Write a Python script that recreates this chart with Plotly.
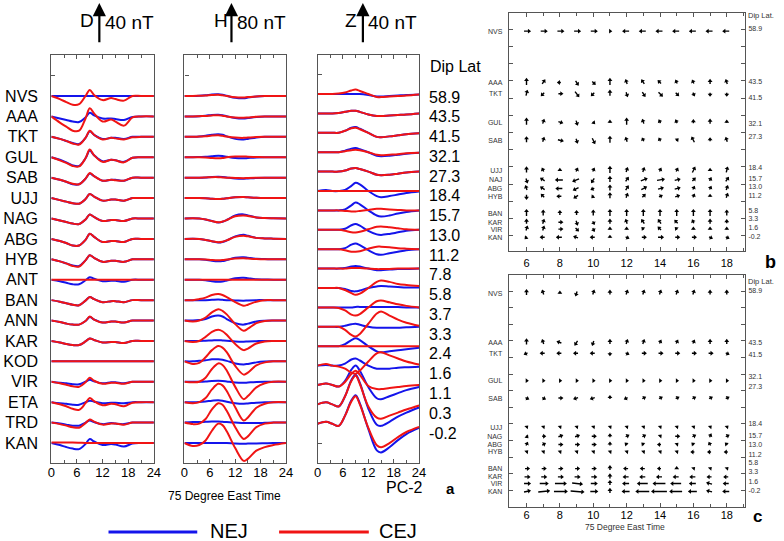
import math
import plotly.graph_objects as go

W, H = 784, 541

# ---------------- data: panel a (station traces, nT) ----------------
T = [0, 2, 3.5, 5, 6.5, 8, 9, 10, 12, 14, 15, 17, 19, 21, 24]
STATIONS = ["NVS", "AAA", "TKT", "GUL", "SAB", "UJJ", "NAG", "ABG", "HYB",
            "ANT", "BAN", "ANN", "KAR", "KOD", "VIR", "ETA", "TRD", "KAN"]
DIP_LAT = ["58.9", "43.5", "41.5", "32.1", "27.3", "18.4", "15.7", "13.0", "11.2",
           "7.8", "5.8", "3.7", "3.3", "2.4", "1.6", "1.1", "0.3", "-0.2"]

D_NEJ = [
    [0, 0, 0, 0, 0, 0, 0, 0, 0, 0, 0, 0, 0, 0, 0],
    [0, -2, -3.5, -5, -5.5, -1, 3.5, 1, -2, -2, -2.5, -3.5, -0.5, 0, 0],
    [0, -2, -4, -6, -7, -1, 5.5, 2, -2, -1, -1, -2, 0, 0, 0],
    [0, -2.5, -5, -8, -8.5, -1, 6.5, 2, -4, -2.5, -3, -4.5, -0.5, 0, 0],
    [0, -2, -4, -6.5, -6.5, -1, 4, 1.5, -3, -2, -2, -3, 0, 0, 0],
    [0, -2, -3.5, -5, -5.5, -1, 4, 1.5, -2.5, -1.5, -1.5, -2.5, 0, 0, 0],
    [0, -2, -3.5, -5, -5.5, -1, 4, 1.5, -2.5, -1.5, -1.5, -2.5, 0, 0, 0],
    [0, -2, -4, -6.5, -6.5, -1, 5, 2, -3, -2, -2, -3, 0, 0, 0],
    [0, -2, -4, -6, -6.5, -1, 4, 1.5, -2.5, -1.5, -1.5, -2.5, 0, 0, 0],
    [0, -1.5, -3, -4.5, -4.5, -0.5, 2.5, 1, -1.5, -1, -1, -2, 0, 0, 0],
    [0, -1.5, -3, -4.5, -5, -0.5, 3, 1, -2, -1, -1, -2, 0, 0, 0],
    [0, -1.5, -3, -4, -4, -0.5, 3.5, 1, -2, -1, -1, -2, 0, 0, 0],
    [0, -1.5, -3, -4, -4, -0.5, 2.5, 1, -1.5, -1, -1, -2, 0, 0, 0],
    [0, 0, 0, 0, 0, 0, 0, 0, 0, 0, 0, 0, 0, 0, 0],
    [0, -1, -1.5, -2.5, -2.5, 0, 2, 0.5, -1.5, -0.5, -0.5, -1.5, 0, 0, 0],
    [0, -1, -1.5, -2.5, -2.5, 0, 1.5, 0.5, -1, -0.5, -0.5, -1, 0, 0, 0],
    [0, -1, -2, -3, -3, 0, 2, 0.5, -1.5, -0.5, -1, -1.5, 0, 0, 0],
    [0, -2, -4, -5.5, -6, -1, 4, 1.5, -2, -1, -1.5, -3.5, -0.5, 0, 0],
]
D_CEJ = [
    [0, -3, -6, -8.5, -8, 0, 6, 1, -4, -2, -3, -4.5, 0, 0, 0],
    [0, -6, -10, -14, -14, -2, 8, 3, -5, -3, -5, -9, -1, 0, 0],
    [0, -2, -4, -6.5, -7.5, -1, 6, 2, -2.5, -1, -1.5, -2.5, -0.5, 0, 0],
    [0, -3, -5.5, -8.5, -9, -1, 7.5, 2, -4.5, -2.5, -3, -5, -0.5, 0, 0],
    [0, -2, -4, -6, -6.5, -1, 4.5, 1.5, -3, -2, -2.5, -3, 0, 0, 0],
    [0, -2, -3.5, -5, -5.5, -1, 4, 1.5, -2.5, -1.5, -1.5, -2.5, 0, 0, 0],
    [0, -2, -3.5, -5, -5.5, -1, 4, 1.5, -2.5, -1.5, -1.5, -2.5, 0, 0, 0],
    [0, -2, -4, -6.5, -6.5, -1, 5, 2, -3, -2, -2, -3, 0, 0, 0],
    [0, -2, -4, -6.5, -7, -1, 4, 1.5, -2.5, -1.5, -1.5, -2.5, 0, 0, 0],
    [0, 0, 0, 0, 0, 0, 0, 0, 0, 0, 0, 0, 0, 0, 0],
    [0, -1.5, -3, -4.5, -5, -0.5, 3, 1, -2, -1, -1, -2, 0, 0, 0],
    [0, -1.5, -3, -4, -4, -0.5, 4, 1, -2, -1, -1, -2, 0, 0, 0],
    [0, -1.5, -3, -4, -4, -0.5, 2.5, 1, -1.5, -1, -1, -2, 0, 0, 0],
    [0, 0, 0, 0, 0, 0, 0, 0, 0, 0, 0, 0, 0, 0, 0],
    [0, -1.5, -3, -4.5, -5, -0.5, 4, 1, -2, -1, -1, -2, 0, 0, 0],
    [0, -2, -4, -6.5, -7.5, -1, 4, 1, -3, -1.5, -2, -4, -0.5, 0, 0],
    [0, -1.5, -3, -4.5, -5, -0.5, 3, 1, -2, -1, -1, -2, 0, 0, 0],
    [0.5, 0.5, 0.5, 0.5, 0.3, 0, 0, 0, 0, 0, 0, 0, 0, 0, 0],
]
H_NEJ = [
    [0, 0, 0.5, 1.5, 3, 3.5, 2.5, 0.5, -3.5, -4.5, -3, -1, 0, 0, 0],
    [0, 0, 0.5, 1.5, 3, 3.5, 2.5, 0.5, -3, -4, -3, -1, 0, 0, 0],
    [0, 0, 0.5, 2, 4, 5, 4, 1, -4, -5, -4, -1.5, 0, 0, 0],
    [0, 0, 0.5, 1, 2, 3, 2.5, 1, -1.5, -2, -1.5, -0.5, 0, 0, 0],
    [0, 0, 0, 0.5, 1.5, 2, 1.5, 0.5, -1.5, -2, -1.5, -0.5, 0, 0, 0],
    [0, 0, 0, -0.5, -1.5, -2, -1.5, -0.5, 1.5, 2, 1.5, 0.5, 0, 0, 0],
    [0, 0.5, 0, -2, -5, -8, -6.5, -3, 6, 8, 6, 2, 1, 0.5, 0],
    [0, 0.5, 0, -2, -4.5, -7, -6, -3, 5, 8, 6, 2, 1, 0.5, 0],
    [0, 0, 0, -1, -3, -4, -3.5, -1.5, 3, 4, 3, 1, 0.5, 0, 0],
    [0, 0, 0, -1, -3, -4, -3.5, -1.5, 3, 4, 3, 1, 0.5, 0, 0],
    [0, 0, 0, 0, 0.5, 1, 0.5, 0, -0.5, -1, -0.5, 0, 0, 0, 0],
    [0, 0, 1, 3, 8, 10, 8, 3, -5, -8, -6, -2, -0.5, 0, 0],
    [0, 0, 0, 0.5, 1, 1.5, 1, 0.5, -1, -1.5, -1, -0.5, 0, 0, 0],
    [0, 0, 1, 2, 4, 4, 3, 1, -4, -6, -5, -2, -0.5, 0, 0],
    [0, 0, 0, 0.5, 1.5, 2, 1.5, 0.5, -1.5, -2, -1.5, -0.5, 0, 0, 0],
    [0, 0, 0.5, 1.5, 3, 4, 3, 1, -2, -3, -2.5, -1, 0, 0, 0],
    [0, 1, 1, 1.5, 2, 2, 1.5, 1, 0, -1, -1, -1, -0.5, 0, 0],
    [0, 0, 0, 0, 0, 0, 0, 0, -1, -1.5, -1, -1, -0.5, 0, 0],
]
H_CEJ = [
    [0, 0, 0.5, 1, 2, 2.5, 1.5, 0, -2.5, -3, -2, -1, 0, 0, 0],
    [0, 0, 0.5, 1, 2, 2.5, 1.5, 0, -2, -2.5, -2, -0.5, 0, 0, 0],
    [0, 0, 0.5, 1, 2.5, 3, 2, 0.5, -1.5, -2, -1.5, -0.5, 0, 0, 0],
    [0, 0, 0, -0.5, -1.5, -2, -1.5, 0, 1.5, 1.5, 1, 0.5, 0, 0, 0],
    [0, 0, 0, 0.5, 1, 1, 0.5, 0, -0.5, -1, -0.5, 0, 0, 0, 0],
    [0, 0, 0, -0.5, -1.5, -2, -1.5, -0.5, 1.5, 2, 1.5, 0.5, 0, 0, 0],
    [0, 0.5, 0, -2, -5, -7.5, -6, -3, 4.5, 6, 5, 2, 1, 0.5, 0],
    [0, 0.5, 0, -2, -4.5, -6.5, -5.5, -3, 4, 6, 5, 2, 1, 0.5, 0],
    [0, 0, 0, -0.5, -1.5, -2, -1.5, -0.5, 1.5, 2, 1.5, 0.5, 0, 0, 0],
    [0, 0, 0, 0, 0, 0, 0, 0, 0, 0, 0, 0, 0, 0, 0],
    [0, 0, 2, 5, 10, 12, 10, 6, -4, -11, -9, -3, 0, 0, 0],
    [0, -2, 0, 6, 16, 22, 19, 12, -7, -20, -16, -5, -1, 0, 0],
    [0, -2, 0, 8, 18, 22, 19, 12, -6, -18, -15, -5, -1, 0, 0],
    [0, -5, -3, 8, 22, 30, 27, 18, -9, -26, -22, -8, -2, 0, 0],
    [0, -1, 0, 8, 25, 36, 33, 22, -10, -34, -28, -11, -3, 0, 0],
    [0, -2, 0, 8, 25, 36, 33, 22, -10, -36, -30, -11, -3, 0, 0],
    [0, -3, -2, 7, 26, 38, 35, 23, -9, -32, -27, -9, -2, 0, 0],
    [0, -6, -4, 5, 24, 38, 35, 23, -10, -35, -31, -15, -8, -4, 0],
]
Z_NEJ = [
    [0, 0, 0, 0, 0, 0, 0, 0, -1, -2.5, -2.5, -2, -1.5, -1, -0.5],
    [0, 0, 0, 0.5, 1.5, 2.5, 2.5, 1.5, -1, -2.5, -2.5, -2, -1.5, -1, 0],
    [0, 0, 0, 0, 2, 5, 5.7, 4, 0, -4, -4.3, -3.5, -2.5, -1.5, -0.5],
    [0, 0, 0, 0, 1.5, 3.5, 4, 3, 0, -3.5, -4, -3.5, -2.5, -1.5, -0.5],
    [0, 0, 0, 0, 1, 3, 3.5, 2.5, 0, -3, -3.5, -3, -2, -1, 0],
    [0, 1, 0, 0, 1, 5, 8, 6.5, 0, -5, -6, -5, -3.5, -2, -0.5],
    [0, 0, 0, 0, 1, 5, 7.7, 6, 0, -5, -6, -5, -3, -1.5, 0],
    [0, 0, 0, 0, 1, 4.5, 5.7, 4, -1, -4.5, -5, -4, -2.5, -1, 0],
    [0, 0, 0, 0, 1, 4.5, 5.7, 4, -1, -5, -5.5, -4, -2.5, -1, 0],
    [0, 0, 0, 0, 0.5, 2, 2.5, 2, 0, -1.5, -1.5, -1, -0.5, -0.5, 0],
    [0, 0, 0, 0, -1, -3, -3.3, -2.5, 0, 1.5, 2, 1.5, 1, 0.5, 0.5],
    [0, 0, 0, 0, 0, 0, 0.5, 0.5, 0.5, 0.5, 0.5, 0.5, 0.3, 0, 0],
    [0, 0, 0, 0, 1, 2.5, 3, 2, 0, -1, -1, -1, -1, -0.5, 0],
    [0, 0, 0, 0, 2, 6, 7.7, 6, 0, -5, -6, -5, -4, -3, -1.5],
    [0, 0.5, 0, 0, 2, 6, 7, 5, 0, -3, -3, -3, -2, -1.5, -1],
    [0, 1.5, 0, -1.5, 4, 15, 19, 14, -2, -13, -14, -11, -8, -5, -2],
    [0, 2, 0, -2, 8, 24, 29, 21, -4, -20, -21, -17, -12, -8, -3],
    [0, 2, 0, -2, 8, 23, 28, 20, -5, -26, -28, -23, -16, -10, -4],
]
Z_CEJ = [
    [0, 0, 0, 0.5, 1.5, 3.5, 4.3, 3, 0, -3, -3, -2.5, -2, -1.5, -0.5],
    [0, 0, 0, 0.5, 1.5, 2.5, 2.5, 1.5, -1, -2.5, -2.5, -2, -1.5, -1, 0],
    [0, 0, 0, 0, 2, 4.5, 5, 3.5, 0, -4, -4.3, -3.5, -2.5, -1.5, -0.5],
    [0, 0, 0, 0, 1, 2, 2.5, 2, 0, -2.5, -3, -2.5, -2, -1, -0.5],
    [0, 0, 0, 0, 1, 3, 3.5, 2.5, 0, -3, -3.5, -3, -2, -1, 0],
    [0, 0, 0, 0, 0, 0, 0, 0, 0, 0, 0, 0, 0, 0, 0],
    [0, 0, 0, 0, -0.5, -1, -1, -0.5, 0.5, 1.5, 1.5, 1, 0.5, 0, 0],
    [0, 0, 0, 0, -1, -2.5, -2.7, -2, 0.5, 3, 3.3, 2.5, 1.5, 0.5, 0],
    [0, 0, 0, 0, -1, -2.5, -2.5, -2, 0.5, 2.5, 2.5, 2, 1, 0.5, 0],
    [0, 0, 0, 0, 0, 0.5, 0.5, 0.5, 0, -0.5, -0.5, -0.3, 0, 0, 0],
    [0, 0, 0, 0, -2, -5, -6.7, -5.5, 0, 6, 7.3, 6, 4, 3, 2],
    [0, 0, 0, -0.5, -3, -7, -8, -6.5, 0, 6, 6.7, 5, 3, 1.5, 0],
    [0, 0, 0, 0, -3, -8, -9.5, -7, 3, 13, 15, 11, 7, 4, 1],
    [0, 0, 0, 0, 0, 0, 0, 0, 0, 0, 0, 0, 0, 0, 0],
    [0, 1.5, 0, -1, -3, -7, -8, -5, 4, 12, 13, 10, 7, 4, 1],
    [0, 1.5, 0, -1.5, 3, 11, 14, 10, -1, -4, -4, -3, -2, -1, 0],
    [0, 2, 0, -2, 8, 23, 28, 20, -2, -13, -14, -11, -8, -5, -1],
    [0, 2, 0, -2, 8, 22, 27, 19, -4, -21, -23, -19, -13, -8, -3],
]

# ---------------- data: panels b and c (vectors) ----------------
HOURS = [6, 7, 8, 9, 10, 11, 12, 13, 14, 15, 16, 17, 18]
VEC_ST_B = ["NVS", "AAA", "TKT", "GUL", "SAB", "UJJ", "NAJ", "ABG", "HYB", "BAN", "KAR", "VIR", "KAN"]
VEC_ST_C = ["NVS", "AAA", "TKT", "GUL", "SAB", "UJJ", "NAG", "ABG", "HYB", "BAN", "KAR", "VIR", "KAN"]
VEC_LAT = [55.5, 43.6, 41.0, 34.4, 30.2, 23.2, 21.0, 19.0, 17.2, 13.2, 11.2, 9.6, 7.7]
VEC_DIP = ["58.9", "43.5", "41.5", "32.1", "27.3", "18.4", "15.7", "13.0", "11.2", "5.8", "3.3", "1.6", "-0.2"]
LAT_GRID = [8, 12, 16, 20, 24, 28, 32, 36, 40, 44, 48, 52, 56]

B_U = [
    [5, 5, 5, 5, 5, 0.5, -5, -5, -5, -5, -5, -5, -5],
    [0, 2, -2, 2, 2, 0, -1, -2, -2, -1, -1, 0, -1],
    [1, -2, 3, 3, -2, 0, 1, 2, 3, 2, 1, 0, 0],
    [0, 1, 3, 1, 1, 0, 0, -1, -1, -1, 0, 0, 0],
    [0, 1, 4, 1, 2, 0, -1, -1, -1, 1, -2, 0, -1],
    [0, -1, 0, 1, 1, 0, 1, 1, 1, 1, 2, 0, 1],
    [1, -3, -6, -5, -2, 0, 2, 5, 6, 4, 2, 1, 2],
    [-1, -3, -5, -4, -2, 0, 2, 4, 4, 4, 1, 1, 1],
    [0, -2, -3, -3, -1, 0, 1, 2, 2, 3, 1, 0, 1],
    [0, 0, 0, 0, 0, 0, 0, 0, 0, 0, 0, 0, 0],
    [0, 1, 3, 1, 1, 0, -1, -2, -2, -2, -1, 0, 0],
    [1, 1, 3, 2, 1, 0, 0, -1, -2, -1, 0, 0, 0],
    [-1, -3, -4, -3, -3, 0, 2, 3, 4, 3, 3, 2, 2],
]
B_V = [
    [0, 0, 0, 0, 0, 0, 0, 0, 0, 0, 0, 0, 0],
    [5, 3, 0, -3, -2, 5, 3, 3, 2, 2, 2, 3, 3],
    [4, -2, 0, -4, -2, 4, -3, -3, -3, -2, -2, -2, -2],
    [5, 3, -1, -3, -1, 1, 5, 3, 2, 2, 2, 3, 1],
    [4, 3, -1, -3, -4, 5, 3, 2, 2, 1, 4, 2, 3],
    [4, 2, 1, 2, 2, 5, 3, 3, 2, 2, 4, 1, 4],
    [-3, 2, 0, -2, -3, 4, 3, 2, 1, 1, 2, 2, 3],
    [3, 2, 0, -2, -1, 4, 3, 2, 1, 1, 2, 2, 3],
    [-3, 2, 0, -2, -1, 4, 3, 2, 1, 1, 2, 1, 3],
    [5, 4, 3, 3, 4, 5, 5, 5, 5, 5, 5, 5, 4],
    [3, 3, 0, -3, -2, 3, 3, 3, 3, 2, 2, 3, 2],
    [3, 3, 0, -2, -2, 1, 1, 1, 2, 1, 1, 1, 1],
    [-1, 0, 0, 1, 0, 1, -1, 0, 0, 0, 0, -1, -1],
]
C_U = [
    [0, -1, 0, -1, 1, 0, 1, 1, 1, 1, 1, 0, 0],
    [0, -1, -3, -2, -1, 0, 1, 1, 1, 1, 1, 0, 0],
    [-2, -3, -3, -3, -3, 0, 2, 3, 3, 3, 3, 3, 2],
    [0.5, 0.5, 0.5, 0.5, 0.5, 0.5, 0.5, 0.5, 0.5, 0.5, 0.5, 0.5, 0.5],
    [2, 2, 3, -3, -3, 0, -2, 2, 2, 2, 2, 2, 2],
    [0.5, 0.5, 0.5, 0.5, 0.5, 0.5, 0.5, 0.5, 0.5, 0.5, 0.5, 0.5, 0.5],
    [1, 2, 3, 3, 3, 0, 2, 2, 0.5, 3, 2, 1, 2],
    [1, 2, 3, 3, 3, 0, -1, -1, -2, 0.5, -1, -1, -1],
    [0.5, 0.5, 0.5, 0.5, 0.5, 0.5, 0.5, 0.5, 0.5, 0.5, -2, -2, -2],
    [3, 3, 3, 3, 3, 0, -3, -3, -2, 0, 0.5, 0.5, 0.5],
    [4, 4, 4, 4, 4, 0, -4, -4, -4, -4, -4, -3, -3],
    [5, 7, 10, 9, 5, 0, -5, -9, -11, -9, -5, -4, -4],
    [5, 10, 12, 12, 6, 0, -6, -12, -14, -11, -7, -4, -5],
]
C_V = [
    [4, 3, 1, -3, 3, 3, 3, 3, 3, 3, 3, 3, 3],
    [4, 3, 1, -3, -3, 3, 3, 3, 2, 2, 2, 3, 3],
    [-1, 0, 0, 0, 0, -2, -1, 0, 0, 0, 0, 0, -1],
    [0, 0, 0, 0, 0, 0, 0, 0, 0, 0, 0, 0, 0],
    [-1, -1, 0, -1, -1, 2, -1, 1, 1, 1, 1, 1, 1],
    [0.5, 0.5, 0.5, 0.5, 0.5, 0.5, 0.5, 0.5, 0.5, 0.5, 0.5, 0.5, 0.5],
    [-1, 0, 1, 1, 0, 2, 1, 1, 0.5, 0, 1, 2, 1],
    [2, 1, 0, 0, 0, 2, 1, 1, 0, 0.5, 1, 2, 1],
    [0.5, 0.5, 0.5, 0.5, 0.5, 0.5, 0.5, 0.5, 0.5, 0.5, 0, 0, 0],
    [0, 0, 0, 0, 0, 3, 0, 0, 0, 1, 0.5, 0.5, 0.5],
    [0, 0, 0, 0, 0, 3, 0, 0, 0, 0, 0, 0, 0],
    [0, 0, 0, -1, 0, 3, 0, 0, 0, 0, 0, 1, 0],
    [1, 1, 0, -1, 0, 3, 0, 0, 0, 0, 0, 1, 0],
]

# ---------------- styling / layout ----------------
BLUE = "rgb(20,20,235)"
RED = "rgb(240,20,20)"
AX = "#555555"
FONT = "Arial, Liberation Sans, sans-serif"


def px(x):
    return x / W


def py(y):
    return 1 - y / H


def xdom(a, b):
    return [px(a), px(b)]


def ydom(top, bot):
    return [py(bot), py(top)]


# panel a geometry
A_TOP, A_BOT = 55, 463
PANELS = [
    ("x", "y", 48, 152, D_NEJ, D_CEJ, 20.0, 2.01, -17.98),
    ("x2", "y2", 183, 286, H_NEJ, H_CEJ, 40.0, 2.01, -17.98),
    ("x3", "y3", 318, 421, Z_NEJ, Z_CEJ, 19.0, 2.01, -19.02),
]

fig = go.Figure()

for xa, ya, _, _, nej, cej, sp, _, _ in PANELS:
    for series, col in ((nej, BLUE), (cej, RED)):
        for i, vals in enumerate(series):
            fig.add_trace(go.Scatter(
                x=T, y=[v - i * sp for v in vals], mode="lines",
                line=dict(color=col, width=2, shape="spline", smoothing=1.0),
                xaxis=xa, yaxis=ya, showlegend=False, hoverinfo="skip"))

layout = dict(
    width=W, height=H, margin=dict(l=0, r=0, t=0, b=0),
    paper_bgcolor="white", plot_bgcolor="white",
    font=dict(family=FONT, color="black"), showlegend=False,
)

for k, (xa, ya, x0, x1, _, _, sp, top_u, bot_u) in enumerate(PANELS):
    xn = "xaxis" if k == 0 else f"xaxis{k + 1}"
    yn = "yaxis" if k == 0 else f"yaxis{k + 1}"
    layout[xn] = dict(
        domain=xdom(x0, x1), anchor=ya, range=[0, 24],
        tickvals=[0, 6, 12, 18, 24], ticks="inside", ticklen=4, tickcolor=AX,
        minor=dict(tickvals=[3, 9, 15, 21], ticks="inside", ticklen=3, tickcolor=AX),
        mirror="ticks", showline=True, linecolor=AX, linewidth=1.2,
        showgrid=False, zeroline=False, tickfont=dict(size=13, family=FONT),
        ticklabelstandoff=-3, fixedrange=True)
    nst = len(STATIONS)
    layout[yn] = dict(
        domain=ydom(A_TOP, A_BOT), anchor=xa, range=[bot_u * sp, top_u * sp],
        tickvals=[-i * sp for i in range(nst)],
        ticktext=STATIONS if k == 0 else None,
        showticklabels=(k == 0), ticks="",
        minor=dict(tickvals=[sp, -nst * sp], ticks="inside", ticklen=4, tickcolor=AX),
        mirror=True, showline=True, linecolor=AX, linewidth=1.2,
        showgrid=False, zeroline=False, tickfont=dict(size=16, family=FONT),
        ticklabelstandoff=9, fixedrange=True)

# dip-lat label axis on the right of the Z panel
lab_sp = 19.76
lab_top = (97 - A_TOP) / lab_sp
lab_bot = -(A_BOT - 97) / lab_sp
layout["yaxis6"] = dict(
    overlaying="y3", anchor="x3", side="right", range=[lab_bot, lab_top],
    tickvals=[-i for i in range(len(DIP_LAT))], ticktext=DIP_LAT, ticks="",
    showline=False, showgrid=False, zeroline=False,
    tickfont=dict(size=16, family=FONT), ticklabelstandoff=9, fixedrange=True)
fig.add_trace(go.Scatter(x=[None], y=[None], xaxis="x3", yaxis="y6",
                         showlegend=False, hoverinfo="skip"))

# label placement (latitude units) of the dip-latitude captions in panels b and c
B_LABEL_POS = [56.0, 43.7, 40.2, 34.0, 31.0, 23.8, 21.4, 19.4, 17.3, 14.0, 12.0, 10.0, 7.8]
C_LABEL_POS = [56.0, 43.7, 40.8, 35.5, 32.9, 24.0, 21.1, 18.9, 16.7, 14.6, 12.4, 10.2, 8.0]

# ---------------- panels b and c ----------------
VEC_PANELS = [
    ("x4", "y4", "y7", 512, 752, 13, 251, [4.94, 19.12], [4.52, 59.71], B_U, B_V, VEC_ST_B, 2, B_LABEL_POS),
    ("x5", "y5", "y8", 512, 752, 275, 507, [4.94, 19.12], [3.95, 59.86], C_U, C_V, VEC_ST_C, -2, C_LABEL_POS),
]
for xa, ya, yl, x0, x1, t0, b0, xr, yr, U, V, names, lstand, lpos in VEC_PANELS:
    pxh = (x1 - x0) / (xr[1] - xr[0])
    pxd = (b0 - t0) / (yr[1] - yr[0])
    sx, sy, hx, hy, ang = [], [], [], [], []
    for si, lat in enumerate(VEC_LAT):
        for hi, hr in enumerate(HOURS):
            u, v = U[si][hi], V[si][hi]
            dx, dy = u / pxh, v / pxd
            tx, ty = hr - dx / 2, lat - dy / 2
            ex, ey = hr + dx / 2, lat + dy / 2
            sx += [tx, ex, None]
            sy += [ty, ey, None]
            hx.append(ex)
            hy.append(ey)
            ang.append(math.degrees(math.atan2(u, v)))
    fig.add_trace(go.Scatter(x=sx, y=sy, mode="lines", line=dict(color="black", width=1.4),
                             xaxis=xa, yaxis=ya, showlegend=False, hoverinfo="skip"))
    fig.add_trace(go.Scatter(x=hx, y=hy, mode="markers",
                             marker=dict(symbol="triangle-up", size=4.2, angle=ang, color="black",
                                         line=dict(width=0)),
                             xaxis=xa, yaxis=ya, showlegend=False, hoverinfo="skip"))
    fig.add_trace(go.Scatter(x=[None], y=[None], xaxis=xa, yaxis=yl,
                             showlegend=False, hoverinfo="skip"))
    layout["xaxis" + xa[1:]] = dict(
        domain=xdom(x0, x1), anchor=ya, range=xr,
        tickvals=[6, 8, 10, 12, 14, 16, 18], ticks="inside", ticklen=4, tickcolor=AX,
        minor=dict(dtick=1, tick0=0, ticks="inside", ticklen=3, tickcolor=AX),
        mirror="ticks", showline=True, linecolor=AX, linewidth=1.2,
        showgrid=False, zeroline=False, tickfont=dict(size=11, family=FONT),
        ticklabelstandoff=lstand, fixedrange=True)
    layout["yaxis" + ya[1:]] = dict(
        domain=ydom(t0, b0), anchor=xa, range=yr,
        tickvals=VEC_LAT, ticktext=names, ticks="",
        minor=dict(tickvals=LAT_GRID, ticks="inside", ticklen=4, tickcolor=AX),
        mirror="ticks", showline=True, linecolor=AX, linewidth=1.2,
        showgrid=False, zeroline=False, tickfont=dict(size=7, family=FONT, color="#333"),
        ticklabelstandoff=4, fixedrange=True)
    layout["yaxis" + yl[1:]] = dict(
        overlaying=ya, anchor=xa, side="right", range=yr,
        tickvals=lpos, ticktext=VEC_DIP, ticks="",
        showline=False, showgrid=False, zeroline=False,
        tickfont=dict(size=7, family=FONT, color="#333"), ticklabelstandoff=2,
        fixedrange=True)

fig.update_layout(**layout)

# ---------------- annotations / decorations ----------------
ann = []


def text(x, y, s, size, anchor="center", bold=False, color="black"):
    ann.append(dict(x=px(x), y=py(y), xref="paper", yref="paper", text=(f"<b>{s}</b>" if bold else s),
                    showarrow=False, xanchor=anchor, yanchor="middle",
                    font=dict(size=size, family=FONT, color=color)))


# scale bars (length from each panel's nT scale)
SCALE = [("D", "40 nT", 40, 84, 96.7, PANELS[0]),
         ("H", "80 nT", 80, 220, 230.7, PANELS[1]),
         ("Z", "40 nT", 40, 352, 364, PANELS[2])]
for lab, val, nt, xl, xarr, P in SCALE:
    sp, top_u, bot_u = P[6], P[7], P[8]
    ppn = (A_BOT - A_TOP) / ((top_u - bot_u) * sp)
    L = nt * ppn
    ann.append(dict(x=px(xarr), y=py(3), xref="paper", yref="paper", ax=0, ay=L,
                    text="", showarrow=True, arrowhead=2, arrowsize=1.2, arrowwidth=2.2,
                    arrowcolor="black", standoff=0))
    text(xl, 20, lab, 19)
    text(xarr + 3.5, 23, val, 19, anchor="left")

text(457.5, 66, "Dip Lat", 16)
text(223.5, 496, "75 Degree East Time", 12)
text(406.5, 487, "PC-2", 16)
text(452.5, 488, "a", 15, bold=True)
text(777, 262, "b", 18, bold=True)
text(764, 516, "c", 17, bold=True)
text(753, 15, "Dip Lat.", 7.5, anchor="left", color="#333")
text(753, 281, "Dip Lat.", 7.5, anchor="left", color="#333")
text(630, 527, "75 Degree East Time", 8.5, color="#333")
text(207, 531, "NEJ", 20, anchor="left")
text(378, 531, "CEJ", 20, anchor="left")

shapes = [
    dict(type="line", xref="paper", yref="paper", x0=px(106), x1=px(196), y0=py(532), y1=py(532),
         line=dict(color=BLUE, width=3)),
    dict(type="line", xref="paper", yref="paper", x0=px(279), x1=px(370), y0=py(532), y1=py(532),
         line=dict(color=RED, width=3)),
]
fig.update_layout(annotations=ann, shapes=shapes)

fig.write_html("out.html", config={"displayModeBar": False},
               post_script="document.body.style.margin='0px';document.body.style.overflow='hidden';")
